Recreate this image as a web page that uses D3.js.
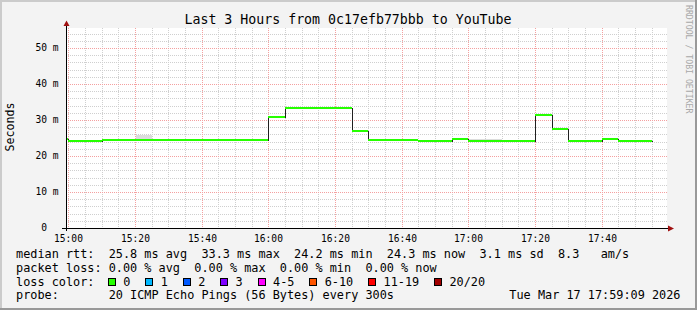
<!DOCTYPE html>
<html><head><meta charset="utf-8">
<script src="https://cdn.jsdelivr.net/npm/d3@7"></script>
<style>
html,body{margin:0;padding:0;background:#f3f3f3;overflow:hidden;}
svg{display:block;}
text{font-family:"DejaVu Sans Mono",monospace;white-space:pre;fill:#000;}
</style></head><body>
<svg id="c" width="697" height="310"></svg>
<script>
// ---- data ----
const title = "Last 3 Hours from 0c17efb77bbb to YouTube";
const yLabel = "Seconds";
const watermark = "RRDTOOL / TOBI OETIKER";
const stepTimes = ["14:55","15:00","15:05","15:10","15:15","15:20","15:25","15:30","15:35","15:40","15:45","15:50","15:55",
  "16:00","16:05","16:10","16:15","16:20","16:25","16:30","16:35","16:40","16:45","16:50","16:55",
  "17:00","17:05","17:10","17:15","17:20","17:25","17:30","17:35","17:40","17:45","17:50"];
const medianMs = [24.6,24.3,24.3,24.5,24.5,24.5,24.5,24.5,24.5,24.5,24.5,24.5,24.5,
  30.7,33.3,33.3,33.3,33.3,27.0,24.5,24.5,24.5,24.2,24.2,24.6,
  24.2,24.2,24.2,24.2,31.5,27.4,24.3,24.3,24.6,24.3,24.3];
const lossCount = [0,0,0,0,0,0,0,0,0,0,0,0,0,0,0,0,0,0,0,0,0,0,0,0,0,0,0,0,0,0,0,0,0,0,0,0];
const smokeTimes = ["15:20","15:25","16:15","16:20","17:00","17:05"];
const smokeHiMs = [25.8,24.8,33.7,33.7,24.6,24.6];
const smokeShade = ["#dcdcdc","#e8e8e8","#e4e4e4","#e4e4e4","#dcdcdc","#dcdcdc"];
const xTickLabels = ["15:00","15:20","15:40","16:00","16:20","16:40","17:00","17:20","17:40"];
const yTicks = [0,10,20,30,40,50];
const lossLabels = ["0","1","2","3","4-5","6-10","11-19","20/20"];
const lossColors = ["#26ff00","#00b8ff","#0059ff","#7e00ff","#ff00ff","#ff5500","#ff0000","#a10000"];
const legendRtt = "median rtt:  25.8 ms avg  33.3 ms max  24.2 ms min  24.3 ms now  3.1 ms sd  8.3   am/s";
const legendLoss = "packet loss: 0.00 % avg  0.00 % max  0.00 % min  0.00 % now";
const legendColorHead = "loss color:";
const legendProbe = "probe:       20 ICMP Echo Pings (56 Bytes) every 300s";
const dateText = "Tue Mar 17 17:59:09 2026";

// ---- setup ----
const svg = d3.select("#c");
const W = 697, H = 310;
const T = s => { const [h,m] = s.split(":").map(Number); return new Date(Date.UTC(2026,2,17,h,m,0)); };
const tStart = new Date(Date.UTC(2026,2,17,14,59,9));
const tEnd = new Date(Date.UTC(2026,2,17,17,59,9));
const PL = 66, PR = 666, PT = 28, PB = 228;
const x = d3.scaleUtc().domain([tStart, tEnd]).range([PL, PR]);
const y = d3.scaleLinear().domain([0, 200/3.6]).range([PB, PT]);

// background + shade borders
svg.append("rect").attr("width",W).attr("height",H).attr("fill","#f3f3f3");
svg.append("rect").attr("x",0).attr("y",0).attr("width",W).attr("height",2).attr("fill","#cbcbcb");
svg.append("rect").attr("x",0).attr("y",0).attr("width",2).attr("height",H).attr("fill","#cbcbcb");
svg.append("rect").attr("x",0).attr("y",H-2).attr("width",W).attr("height",2).attr("fill","#999");
svg.append("rect").attr("x",W-2).attr("y",0).attr("width",2).attr("height",H).attr("fill","#999");

// canvas
svg.append("rect").attr("x",PL).attr("y",PT).attr("width",PR-PL+1).attr("height",PB-PT).attr("fill","#fff");

// grid
const g = svg.append("g").attr("shape-rendering","crispEdges");
const minorT = d3.utcMinute.every(5).range(tStart, tEnd).filter(d => d.getUTCMinutes() % 20 !== 0);
const majorT = d3.utcMinute.every(20).range(tStart, tEnd);
g.selectAll(".vmin").data(minorT).enter().append("line")
  .attr("x1",d=>Math.floor(x(d))+0.5).attr("x2",d=>Math.floor(x(d))+0.5)
  .attr("y1",PT).attr("y2",PB).attr("stroke","#cfcfcf").attr("stroke-dasharray","1,1");
const minorY = d3.range(2, 56, 2).filter(v => v % 10 !== 0);
g.selectAll(".hmin").data(minorY).enter().append("line")
  .attr("y1",d=>Math.round(y(d))+0.5).attr("y2",d=>Math.round(y(d))+0.5)
  .attr("x1",PL).attr("x2",PR+1).attr("stroke","#cfcfcf").attr("stroke-dasharray","1,1");
g.selectAll(".vmaj").data(majorT).enter().append("line")
  .attr("x1",d=>Math.floor(x(d))+0.5).attr("x2",d=>Math.floor(x(d))+0.5)
  .attr("y1",PT).attr("y2",PB).attr("stroke","#f4a0a0").attr("stroke-dasharray","1,1");
g.selectAll(".hmaj").data(yTicks.filter(v=>v>0)).enter().append("line")
  .attr("y1",d=>Math.round(y(d))+0.5).attr("y2",d=>Math.round(y(d))+0.5)
  .attr("x1",PL).attr("x2",PR+1).attr("stroke","#f4a0a0").attr("stroke-dasharray","1,1");

// plot group with clip
svg.append("clipPath").attr("id","clip").append("rect").attr("x",PL).attr("y",PT).attr("width",PR-PL).attr("height",PB-PT);
const p = svg.append("g").attr("clip-path","url(#clip)");
const step = 5*60*1000;

// smoke
p.selectAll(".smoke").data(smokeTimes).enter().append("rect")
  .attr("shape-rendering","crispEdges")
  .attr("x",d=>x(T(d))).attr("width",d=>x(new Date(+T(d)+step))-x(T(d)))
  .attr("y",(d,i)=>y(smokeHiMs[i]))
  .attr("height",(d,i)=>y(medianMs[stepTimes.indexOf(d)]) - y(smokeHiMs[i]))
  .attr("fill",(d,i)=>smokeShade[i]);

// dark median line
const pts = stepTimes.map((t,i)=>[T(t), medianMs[i]]);
pts.push([new Date(+T(stepTimes[stepTimes.length-1])+step), medianMs[medianMs.length-1]]);
p.append("path").datum(pts)
  .attr("d", d3.line().x(d=>Math.floor(x(d[0]))+0.5).y(d=>Math.round(y(d[1]))+0.5).curve(d3.curveStepAfter))
  .attr("fill","none").attr("stroke","#202020").attr("stroke-width",1).attr("shape-rendering","crispEdges");

// colored median bands
const lossIdx = c => c===0?0:c===1?1:c===2?2:c===3?3:c<=5?4:c<=10?5:c<=19?6:7;
p.selectAll(".band").data(stepTimes).enter().append("rect")
  .attr("shape-rendering","crispEdges")
  .attr("x",d=>Math.floor(x(T(d)))).attr("width",d=>Math.floor(x(new Date(+T(d)+step)))-Math.floor(x(T(d))))
  .attr("y",(d,i)=>Math.round(y(medianMs[i]))-1).attr("height",2)
  .attr("fill",(d,i)=>lossColors[lossIdx(lossCount[i])]);

// axes
svg.append("line").attr("x1",62).attr("x2",668).attr("y1",PB+0.5).attr("y2",PB+0.5).attr("stroke","#000").attr("shape-rendering","crispEdges");
svg.append("line").attr("x1",PL+0.5).attr("x2",PL+0.5).attr("y1",231).attr("y2",25).attr("stroke","#000").attr("shape-rendering","crispEdges");
svg.append("path").attr("d","M668,225.5L674,228.5L668,231.5Z").attr("fill","#a01010");
svg.append("path").attr("d","M63.5,26L66.5,20.5L69.5,26Z").attr("fill","#a01010");

// x tick labels
svg.selectAll(".xt").data(xTickLabels).enter().append("text")
  .attr("x",d=>Math.floor(x(T(d)))+0.5).attr("y",242).attr("text-anchor","middle")
  .style("font-size","9.6px").text(d=>d);
// y tick labels
svg.selectAll(".yt").data(yTicks).enter().append("text")
  .attr("x",58.5).attr("y",d=>y(d)+3.4).attr("text-anchor","end")
  .style("font-size","9.6px").text(d=>d===0?"0  ":d+" m");

// title
svg.append("text").attr("x",348).attr("y",24).attr("text-anchor","middle").style("font-size","13.25px").text(title);
// y label
svg.append("text").attr("transform","translate(14.3,127) rotate(-90)").attr("text-anchor","middle").style("font-size","11.6px").text(yLabel);
// watermark
svg.append("text").attr("transform","translate(685.5,5) rotate(90)").style("font-size","8.2px").style("fill","#a8a8a8").text(watermark);

// legend
const LF = "11.85px", CW = 7.13;
svg.append("text").attr("x",16).attr("y",258.3).style("font-size",LF).text(legendRtt);
svg.append("text").attr("x",16).attr("y",272).style("font-size",LF).text(legendLoss);
svg.append("text").attr("x",16).attr("y",285.7).style("font-size",LF).text(legendColorHead);
let bx = 108.5;
lossLabels.forEach((lab,i)=>{
  svg.append("rect").attr("x",bx).attr("y",278.5).attr("width",7).attr("height",7)
    .attr("fill",lossColors[i]).attr("stroke","#000").attr("shape-rendering","crispEdges");
  svg.append("text").attr("x",bx+14.8).attr("y",285.7).style("font-size",LF).text(lab);
  bx += 30.3 + lab.length*CW;
});
svg.append("text").attr("x",16).attr("y",299.4).style("font-size",LF).text(legendProbe);
svg.append("text").attr("x",680.5).attr("y",299.4).attr("text-anchor","end").style("font-size",LF).text(dateText);
</script>
</body></html>
